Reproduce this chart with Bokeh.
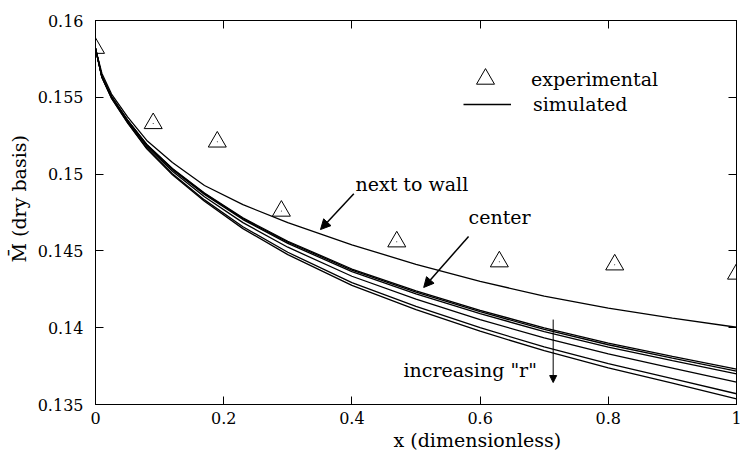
from bokeh.plotting import figure
from bokeh.models import (LinearAxis, FixedTicker, CustomJSTickFormatter, Arrow, NormalHead,
                          Label, Legend, LegendItem, Range1d, Title)
from bokeh.embed import file_html
from bokeh.resources import INLINE

# ---------------- data ----------------
x_sim = [0.0, 0.01, 0.025, 0.05, 0.08, 0.12, 0.17, 0.23, 0.3, 0.4, 0.5, 0.6, 0.7, 0.8, 0.9, 1.0]

m_wall = [0.15818, 0.15655, 0.15521, 0.15372, 0.15219, 0.15076, 0.14926, 0.14801,
          0.14684, 0.14539, 0.14413, 0.14301, 0.14206, 0.14127, 0.14063, 0.14003]
m_center = [0.15818, 0.15635, 0.15505, 0.15352, 0.15193, 0.15036, 0.14877, 0.14715,
            0.14563, 0.14382, 0.14240, 0.14113, 0.13999, 0.13900, 0.13814, 0.13731]
m_r2 = [0.15818, 0.15635, 0.15504, 0.15351, 0.15191, 0.15033, 0.14873, 0.14710,
        0.14557, 0.14375, 0.14232, 0.14104, 0.13989, 0.13889, 0.13802, 0.13718]
m_r3 = [0.15818, 0.15634, 0.15503, 0.15349, 0.15188, 0.15029, 0.14868, 0.14704,
        0.14549, 0.14365, 0.14220, 0.14091, 0.13975, 0.13874, 0.13786, 0.13700]
m_r4 = [0.15818, 0.15632, 0.15500, 0.15343, 0.15180, 0.15018, 0.14853, 0.14684,
        0.14524, 0.14335, 0.14186, 0.14053, 0.13933, 0.13829, 0.13737, 0.13645]
m_r5 = [0.15818, 0.15630, 0.15495, 0.15336, 0.15169, 0.15002, 0.14832, 0.14657,
        0.14491, 0.14293, 0.14139, 0.14000, 0.13875, 0.13766, 0.13669, 0.13570]
m_r6 = [0.15818, 0.15629, 0.15493, 0.15333, 0.15164, 0.14995, 0.14823, 0.14645,
        0.14476, 0.14275, 0.14118, 0.13977, 0.13850, 0.13739, 0.13639, 0.13537]

x_exp = [0.0, 0.09, 0.19, 0.29, 0.47, 0.63, 0.81, 1.0]
m_exp = [0.1582, 0.1533, 0.1521, 0.1476, 0.1456, 0.1443, 0.1441, 0.1435]

x_ticks = [0, 0.2, 0.4, 0.6, 0.8, 1.0]
y_ticks = [0.135, 0.14, 0.145, 0.15, 0.155, 0.16]

x_label = "x (dimensionless)"
y_label = "M\u0304 (dry basis)"
legend_labels = ["experimental", "simulated"]

FONT = "DejaVu Serif"

# ---------------- figure ----------------
p = figure(width=743, height=457, output_backend="svg", toolbar_location=None,
           x_range=Range1d(0, 1), y_range=Range1d(0.135, 0.16),
           min_border_left=95, min_border_right=7, min_border_top=20, min_border_bottom=53)
p.background_fill_color = "white"
p.border_fill_color = "white"
p.outline_line_color = "black"
p.outline_line_width = 1
p.grid.visible = False

bottom_ax = p.below[0]
left_ax = p.left[0]
top_ax = LinearAxis()
right_ax = LinearAxis()
p.add_layout(top_ax, "above")
p.add_layout(right_ax, "right")

fmt = CustomJSTickFormatter(code="return String(Math.round(tick*1000)/1000);")

def style_axis(ax, ticks, show_labels, standoff=10):
    ax.ticker = FixedTicker(ticks=ticks)
    ax.formatter = fmt
    ax.major_tick_in = 8
    ax.major_tick_out = 0
    ax.minor_tick_line_color = None
    ax.axis_line_color = "black"
    ax.major_tick_line_color = "black"
    ax.major_label_text_font = FONT
    ax.major_label_text_font_size = "16px"
    ax.major_label_text_color = "black" if show_labels else None
    ax.major_label_standoff = standoff if show_labels else 0

style_axis(bottom_ax, x_ticks, True, 7)
style_axis(left_ax, y_ticks, True, 12)
style_axis(top_ax, x_ticks, False)
style_axis(right_ax, y_ticks, False)

# axis titles, placed like the reference (x title right of centre, y title a bit high)
p.add_layout(Title(text=x_label, align="left", offset=298, standoff=0,
                   text_font=FONT, text_font_size="19px", text_font_style="normal",
                   text_color="black"), "below")
p.add_layout(Title(text=y_label, align="left", offset=142, standoff=10,
                   text_font=FONT, text_font_size="19px", text_font_style="normal",
                   text_color="black"), "left")

# ---------------- simulated curves ----------------
lw = 1.3
r_wall = p.line(x_sim, m_wall, line_color="black", line_width=lw)
for series in (m_center, m_r2, m_r3, m_r4, m_r5, m_r6):
    p.line(x_sim, series, line_color="black", line_width=lw)

# ---------------- experimental points ----------------
r_exp = p.scatter(x_exp, m_exp, marker="triangle", size=18, fill_color=None,
                  line_color="black", line_width=1)
p.scatter(x_exp, m_exp, marker="dot", size=4, line_color="black")

# ---------------- legend (two single-row legends so the marker keeps its size) ----------------
common = dict(orientation="vertical", glyph_width=48, label_standoff=22, spacing=0,
              padding=0, margin=0, border_line_color=None, background_fill_alpha=0,
              label_text_font=FONT, label_text_font_size="19px", label_text_color="black")
leg1 = Legend(items=[LegendItem(label=legend_labels[0], renderers=[r_exp])],
              location=(366, 303), glyph_height=45, label_height=22, **common)
leg2 = Legend(items=[LegendItem(label=legend_labels[1], renderers=[r_wall])],
              location=(368, 289), glyph_height=22, label_height=22, **common)
p.add_layout(leg1, "center")
p.add_layout(leg2, "center")

# ---------------- annotations ----------------
def txt(x, y, s):
    p.add_layout(Label(x=x, y=y, text=s, text_font=FONT, text_font_size="19px",
                       text_color="black"))

txt(0.4056, 0.14861, "next to wall")
txt(0.582, 0.14646, "center")
txt(0.4805, 0.13650, 'increasing "r"')

p.add_layout(Arrow(end=NormalHead(size=10, fill_color="black", line_color="black"),
                   x_start=0.403, y_start=0.14872, x_end=0.351, y_end=0.14639,
                   line_width=1.5, line_color="black"))
p.add_layout(Arrow(end=NormalHead(size=10, fill_color="black", line_color="black"),
                   x_start=0.582, y_start=0.14594, x_end=0.512, y_end=0.14262,
                   line_width=1.5, line_color="black"))
p.add_layout(Arrow(end=NormalHead(size=7, fill_color="black", line_color="black"),
                   x_start=0.714, y_start=0.14053, x_end=0.714, y_end=0.13643,
                   line_width=1, line_color="black"))

open("out.html", "w").write(file_html(p, INLINE))
